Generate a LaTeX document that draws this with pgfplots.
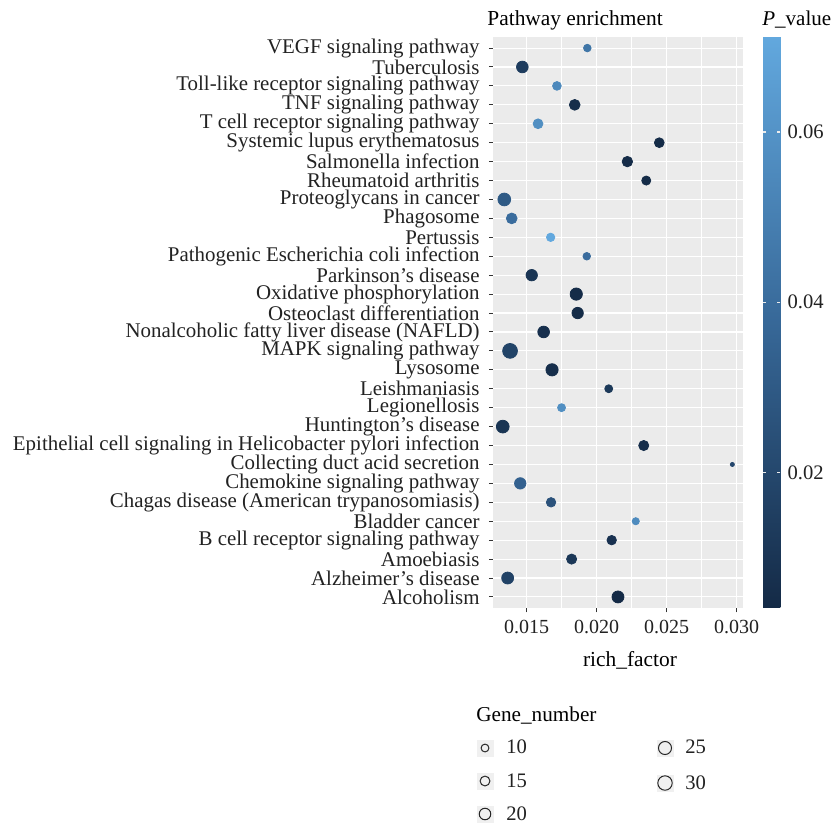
\documentclass[border=0pt]{standalone}
\usepackage{fontspec}
\setmainfont{Liberation Serif}
\usepackage{pgfplots}
\usepackage{pgfplotstable}
\pgfplotsset{compat=1.18}
\pgfplotsset{/pgf/number format/assume math mode=true}
\definecolor{ggbg}{HTML}{EBEBEB}
\definecolor{ggkey}{HTML}{F0F0F0}
\definecolor{txt}{HTML}{222222}
\definecolor{tickc}{HTML}{333333}

\pgfplotstableread{
y rf n p
30 0.01933 12 0.045
29 0.01469 24 0.014
28 0.01716 15 0.055
27 0.01843 21 0.006
26 0.01581 18 0.058
25 0.02447 18 0.005
24 0.02219 20 0.005
23 0.02354 16 0.005
22 0.01340 28 0.030
21 0.01393 21 0.040
20 0.01671 14 0.0712
19 0.01929 12 0.040
18 0.01536 23 0.010
17 0.01854 26 0.005
16 0.01864 23 0.005
15 0.01621 24 0.007
14 0.01381 36 0.018
13 0.01681 26 0.006
12 0.02086 13 0.012
11 0.01749 13 0.058
10 0.01329 28 0.010
9 0.02336 19 0.006
8 0.02969 5 0.020
7 0.01454 23 0.034
6 0.01674 17 0.026
5 0.02279 11 0.056
4 0.02107 17 0.008
3 0.01821 19 0.011
2 0.01364 25 0.017
1 0.02152 25 0.0041
}\data

\pgfplotstableread{
x y n
485 748 10
485 781 15
485 814 20
665 748 25
665 783 30
}\legdata

\begin{document}
\begin{tikzpicture}
\useasboundingbox (0,0) rectangle (415.5pt,-412pt);
\begin{axis}[
  at={(246.5pt,-304.15pt)}, anchor=south west,
  scale only axis, width=125.15pt, height=285.8pt,
  xmin=0.012593, xmax=0.030471, ymin=0.4, ymax=30.6,
  xtick={0.015,0.020,0.025,0.030},
  minor xtick={0.0125,0.0175,0.0225,0.0275},
  ytick={1,...,30},
  yticklabels={Alcoholism, Alzheimer’s disease, Amoebiasis, B cell receptor signaling pathway, Bladder cancer, Chagas disease (American trypanosomiasis), Chemokine signaling pathway, Collecting duct acid secretion, Epithelial cell signaling in Helicobacter pylori infection, Huntington’s disease, Legionellosis, Leishmaniasis, Lysosome, MAPK signaling pathway, Nonalcoholic fatty liver disease (NAFLD), Osteoclast differentiation, Oxidative phosphorylation, Parkinson’s disease, Pathogenic Escherichia coli infection, Pertussis, Phagosome, Proteoglycans in cancer, Rheumatoid arthritis, Salmonella infection, Systemic lupus erythematosus, T cell receptor signaling pathway, TNF signaling pathway, Toll-like receptor signaling pathway, Tuberculosis, VEGF signaling pathway},
  grid=both,
  major grid style={white, line width=0.55pt},
  minor grid style={white, line width=0.28pt},
  axis background/.style={fill=ggbg},
  axis line style={draw=none},
  tick align=outside, major tick length=2pt, minor tick length=0pt,
  tick style={color=tickc, line width=0.5pt},
  xtick pos=bottom, ytick pos=left,
  scaled x ticks=false,
  xticklabel style={/pgf/number format/fixed, /pgf/number format/fixed zerofill, /pgf/number format/precision=3},
  ticklabel style={font=\fontsize{10pt}{12pt}\selectfont, text=txt, inner sep=0pt},
  yticklabel style={xshift=-4.5pt, font=\fontsize{10.45pt}{12pt}\selectfont},
  xticklabel style={yshift=-3.7pt},
  point meta min=0.0041, point meta max=0.0712,
  colormap={gg}{rgb255=(20,42,70) rgb255=(55,104,152) rgb255=(98,168,222)},
  colorbar,
  colorbar style={
    at={(parent axis.north east)}, anchor=north west,
    xshift=1.35pt, yshift=0pt,
    width=8.6pt, height=285.5pt,
    scale only axis,
    axis line style={draw=none},
    ytick={0.02,0.04,0.06},
    ytick pos=both, yticklabel pos=right,
    tick align=inside, major tick length=1.6pt,
    tick style={color=white!85!gray, line width=0.7pt},
    scaled y ticks=false,
    yticklabel style={/pgf/number format/fixed, /pgf/number format/fixed zerofill, /pgf/number format/precision=2},
    yticklabel style={font=\fontsize{10.3pt}{12pt}\selectfont, text=txt, inner sep=0pt, xshift=3.5pt},
  },
  clip=false,
]
\addplot[scatter, only marks, mark=*, scatter src=explicit,
  scatter/use mapped color={draw=mapped color, fill=mapped color},
  visualization depends on={\thisrow{n} \as \gn},
  scatter/@pre marker code/.append style={/tikz/mark size={0.7125*sqrt(\gn)-0.575}}]
  table[x=rf, y=y, meta=p] {\data};
\end{axis}
\begin{axis}[
  at={(0pt,0pt)}, anchor=north west,
  scale only axis, width=415.5pt, height=412pt,
  xmin=0, xmax=831, ymin=0, ymax=824, y dir=reverse,
  hide axis, clip=false,
]
\fill[ggkey] (axis cs:477,740) rectangle (axis cs:494,757);
\fill[ggkey] (axis cs:477,773) rectangle (axis cs:494,790);
\fill[ggkey] (axis cs:477,806) rectangle (axis cs:494,823);
\fill[ggkey] (axis cs:657,740) rectangle (axis cs:674,757);
\fill[ggkey] (axis cs:657,775) rectangle (axis cs:674,792);
\addplot[only marks, mark=o, mark options={draw=black!85, line width=0.5pt},
  visualization depends on={\thisrow{n} \as \gn},
  scatter, scatter/use mapped color={draw=black!85},
  scatter/@pre marker code/.append style={/tikz/mark size={0.7125*sqrt(\gn)-0.3}}]
  table[x=x, y=y, meta=n] {\legdata};
\node[anchor=west, inner sep=0pt, text=black, font=\fontsize{10.7pt}{12pt}\selectfont] at (axis cs:487,20) {Pathway enrichment};
\node[anchor=west, inner sep=0pt, text=black, font=\fontsize{10.5pt}{12pt}\selectfont] at (axis cs:762,20) {\textit{P}\_value};
\node[inner sep=0pt, text=black, font=\fontsize{10.7pt}{12pt}\selectfont] at (axis cs:630,660) {rich\_factor};
\node[anchor=west, inner sep=0pt, text=black, font=\fontsize{10.6pt}{12pt}\selectfont] at (axis cs:476,715) {Gene\_number};
\node[anchor=west, inner sep=0pt, text=txt, font=\fontsize{10.3pt}{12pt}\selectfont] at (axis cs:506,747) {10};
\node[anchor=west, inner sep=0pt, text=txt, font=\fontsize{10.3pt}{12pt}\selectfont] at (axis cs:506,781) {15};
\node[anchor=west, inner sep=0pt, text=txt, font=\fontsize{10.3pt}{12pt}\selectfont] at (axis cs:506,814) {20};
\node[anchor=west, inner sep=0pt, text=txt, font=\fontsize{10.3pt}{12pt}\selectfont] at (axis cs:685,747) {25};
\node[anchor=west, inner sep=0pt, text=txt, font=\fontsize{10.3pt}{12pt}\selectfont] at (axis cs:685,783) {30};
\end{axis}
\end{tikzpicture}
\end{document}
